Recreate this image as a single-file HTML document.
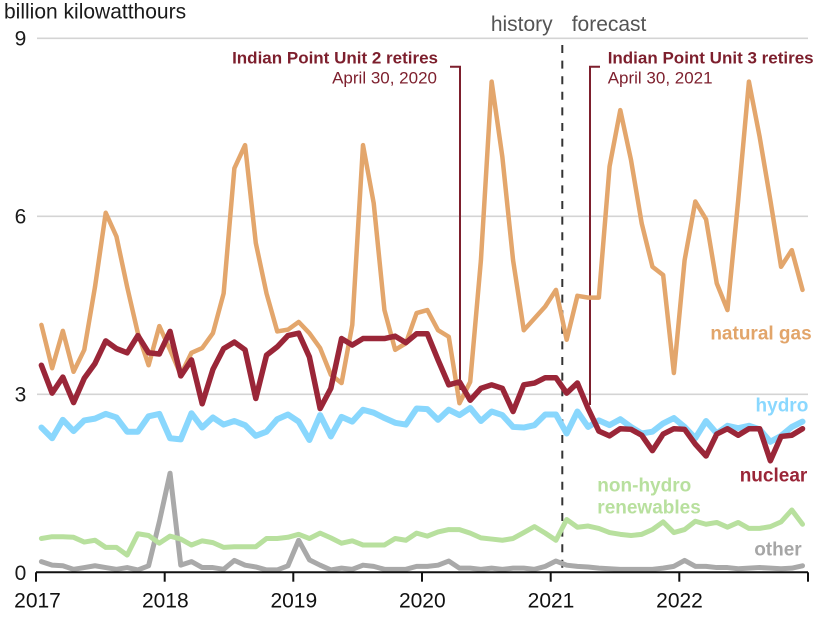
<!DOCTYPE html>
<html>
<head>
<meta charset="utf-8">
<style>
  html, body { margin:0; padding:0; background:#ffffff; }
  body { width:826px; height:620px; overflow:hidden; }
  svg { display:block; font-family:"Liberation Sans", Arial, Helvetica, sans-serif; }
</style>
</head>
<body>
<svg width="826" height="620" viewBox="0 0 826 620" xmlns="http://www.w3.org/2000/svg">
  <rect x="0" y="0" width="826" height="620" fill="#ffffff"/>

  <!-- title -->
  <text x="4" y="18.5" font-size="21" fill="#1a1a1a">billion kilowatthours</text>

  <!-- gridlines -->
  <g stroke="#d4d4d4" stroke-width="1.6">
    <line x1="37" y1="38.3" x2="808" y2="38.3"/>
    <line x1="37" y1="216.3" x2="808" y2="216.3"/>
    <line x1="37" y1="394.3" x2="808" y2="394.3"/>
  </g>

  <!-- y labels -->
  <g font-size="21" fill="#1a1a1a" text-anchor="middle">
    <text x="20.5" y="45.6">9</text>
    <text x="20.5" y="223.6">6</text>
    <text x="20.5" y="401.6">3</text>
    <text x="20.5" y="579.8">0</text>
  </g>

  <!-- history / forecast -->
  <text x="552.7" y="31" font-size="21" fill="#555555" text-anchor="end">history</text>
  <text x="571.7" y="31" font-size="21" fill="#555555">forecast</text>

  <!-- dashed divider -->
  <line x1="562.3" y1="45" x2="562.3" y2="572" stroke="#333333" stroke-width="2" stroke-dasharray="8,7.6"/>

  <!-- annotations -->
  <g fill="#7d1f2d" font-size="17">
    <text x="438" y="63.3" font-weight="bold" text-anchor="end">Indian Point Unit 2 retires</text>
    <text x="437" y="83.3" text-anchor="end">April 30, 2020</text>
    <text x="607.7" y="63.3" font-weight="bold">Indian Point Unit 3 retires</text>
    <text x="607.7" y="83.3">April 30, 2021</text>
  </g>
  <g fill="none" stroke="#7d1f2d" stroke-width="2">
    <polyline points="450,66.7 460,66.7 460,390"/>
    <polyline points="600,66.7 590,66.7 590,405"/>
  </g>

  <!-- series -->
  <g transform="translate(41.4,572.3) scale(10.72,-59.33)" fill="none" stroke-linejoin="round" stroke-linecap="round">
    <polyline vector-effect="non-scaling-stroke" stroke="#a9a9a9" stroke-width="5"
      points="0,0.18 1,0.12 2,0.11 3,0.05 4,0.08 5,0.11 6,0.08 7,0.05 8,0.08 9,0.04 10,0.11 11,0.85 12,1.67 13,0.12 14,0.18 15,0.08 16,0.08 17,0.05 18,0.20 19,0.12 20,0.09 21,0.04 22,0.04 23,0.11 24,0.54 25,0.21 26,0.12 27,0.04 28,0.07 29,0.05 30,0.12 31,0.10 32,0.05 33,0.05 34,0.05 35,0.10 36,0.10 37,0.12 38,0.19 39,0.07 40,0.07 41,0.05 42,0.07 43,0.05 44,0.07 45,0.07 46,0.05 47,0.10 48,0.19 49,0.12 50,0.10 51,0.09 52,0.07 53,0.06 54,0.05 55,0.05 56,0.05 57,0.05 58,0.07 59,0.10 60,0.20 61,0.10 62,0.10 63,0.08 64,0.08 65,0.06 66,0.07 67,0.08 68,0.07 69,0.06 70,0.07 71,0.11"/>
    <polyline vector-effect="non-scaling-stroke" stroke="#b8e09e" stroke-width="5"
      points="0,0.57 1,0.60 2,0.60 3,0.59 4,0.51 5,0.54 6,0.42 7,0.42 8,0.29 9,0.65 10,0.62 11,0.49 12,0.61 13,0.56 14,0.46 15,0.53 16,0.50 17,0.42 18,0.43 19,0.43 20,0.43 21,0.57 22,0.57 23,0.59 24,0.64 25,0.57 26,0.66 27,0.58 28,0.49 29,0.53 30,0.46 31,0.46 32,0.46 33,0.57 34,0.54 35,0.66 36,0.61 37,0.68 38,0.72 39,0.72 40,0.66 41,0.58 42,0.56 43,0.54 44,0.57 45,0.67 46,0.77 47,0.66 48,0.54 49,0.89 50,0.76 51,0.78 52,0.74 53,0.67 54,0.64 55,0.62 56,0.64 57,0.72 58,0.85 59,0.67 60,0.72 61,0.86 62,0.81 63,0.84 64,0.76 65,0.84 66,0.74 67,0.74 68,0.77 69,0.85 70,1.05 71,0.81"/>
    <polyline vector-effect="non-scaling-stroke" stroke="#89d7fd" stroke-width="6"
      points="0,2.44 1,2.26 2,2.57 3,2.38 4,2.56 5,2.59 6,2.67 7,2.61 8,2.37 9,2.37 10,2.63 11,2.67 12,2.26 13,2.24 14,2.68 15,2.44 16,2.61 17,2.49 18,2.55 19,2.48 20,2.30 21,2.37 22,2.58 23,2.66 24,2.54 25,2.23 26,2.65 27,2.29 28,2.62 29,2.54 30,2.74 31,2.69 32,2.60 33,2.52 34,2.49 35,2.76 36,2.75 37,2.57 38,2.74 39,2.65 40,2.77 41,2.55 42,2.71 43,2.65 44,2.45 45,2.44 46,2.48 47,2.66 48,2.66 49,2.34 50,2.71 51,2.45 52,2.56 53,2.48 54,2.58 55,2.45 56,2.34 57,2.37 58,2.51 59,2.60 60,2.45 61,2.26 62,2.55 63,2.34 64,2.47 65,2.43 66,2.47 67,2.41 68,2.20 69,2.30 70,2.45 71,2.54"/>
    <polyline vector-effect="non-scaling-stroke" stroke="#e3a66c" stroke-width="4.5"
      points="0,4.17 1,3.44 2,4.07 3,3.38 4,3.75 5,4.81 6,6.06 7,5.66 8,4.81 9,4.03 10,3.49 11,4.15 12,3.75 13,3.33 14,3.70 15,3.78 16,4.03 17,4.70 18,6.81 19,7.20 20,5.55 21,4.70 22,4.06 23,4.09 24,4.22 25,4.03 26,3.78 27,3.33 28,3.19 29,4.17 30,7.20 31,6.22 32,4.42 33,3.75 34,3.86 35,4.37 36,4.42 37,4.08 38,3.97 39,2.85 40,3.21 41,5.26 42,8.27 43,7.00 44,5.26 45,4.08 46,4.28 47,4.48 48,4.76 49,3.92 50,4.66 51,4.63 52,4.63 53,6.84 54,7.79 55,6.95 56,5.88 57,5.15 58,5.01 59,3.36 60,5.26 61,6.25 62,5.95 63,4.87 64,4.42 65,6.27 66,8.27 67,7.34 68,6.27 69,5.15 70,5.43 71,4.76"/>
    <polyline vector-effect="non-scaling-stroke" stroke="#9a2638" stroke-width="5.5"
      points="0,3.49 1,3.02 2,3.29 3,2.86 4,3.27 5,3.52 6,3.90 7,3.77 8,3.70 9,3.99 10,3.70 11,3.68 12,4.06 13,3.31 14,3.58 15,2.84 16,3.42 17,3.77 18,3.88 19,3.75 20,2.93 21,3.66 22,3.80 23,3.99 24,4.03 25,3.63 26,2.76 27,3.10 28,3.94 29,3.83 30,3.94 31,3.94 32,3.94 33,3.98 34,3.87 35,4.02 36,4.02 37,3.58 38,3.16 39,3.21 40,2.90 41,3.10 42,3.16 43,3.10 44,2.71 45,3.16 46,3.19 47,3.28 48,3.28 49,3.02 50,3.19 51,2.76 52,2.38 53,2.30 54,2.42 55,2.41 56,2.31 57,2.05 58,2.33 59,2.42 60,2.41 61,2.16 62,1.96 63,2.33 64,2.42 65,2.31 66,2.42 67,2.42 68,1.88 69,2.29 70,2.31 71,2.42"/>
  </g>

  <!-- x axis -->
  <g stroke="#111111" stroke-width="2">
    <line x1="36" y1="572.3" x2="808" y2="572.3"/>
    <line x1="36" y1="572.3" x2="36" y2="581.7"/>
    <line x1="164.7" y1="572.3" x2="164.7" y2="581.7"/>
    <line x1="293.3" y1="572.3" x2="293.3" y2="581.7"/>
    <line x1="422" y1="572.3" x2="422" y2="581.7"/>
    <line x1="550.7" y1="572.3" x2="550.7" y2="581.7"/>
    <line x1="679.3" y1="572.3" x2="679.3" y2="581.7"/>
    <line x1="808" y1="572.3" x2="808" y2="581.7"/>
  </g>
  <g font-size="21" fill="#111111" text-anchor="middle">
    <text x="37.5" y="607.3">2017</text>
    <text x="165.3" y="607.3">2018</text>
    <text x="293.8" y="607.3">2019</text>
    <text x="422.3" y="607.3">2020</text>
    <text x="551" y="607.3">2021</text>
    <text x="679.5" y="607.3">2022</text>
  </g>

  <!-- series labels -->
  <g font-size="19" font-weight="bold">
    <text x="811.7" y="339.3" text-anchor="end" fill="#e2a56a">natural gas</text>
    <text x="808.3" y="411.7" text-anchor="end" fill="#8ad8ff">hydro</text>
    <text x="807.3" y="481.7" text-anchor="end" fill="#9a2638">nuclear</text>
    <text x="597.3" y="491.7" fill="#b8e09e">non-hydro</text>
    <text x="597.3" y="513.3" fill="#b8e09e">renewables</text>
    <text x="801.7" y="555.7" text-anchor="end" fill="#a6a6a6">other</text>
  </g>
</svg>
</body>
</html>
